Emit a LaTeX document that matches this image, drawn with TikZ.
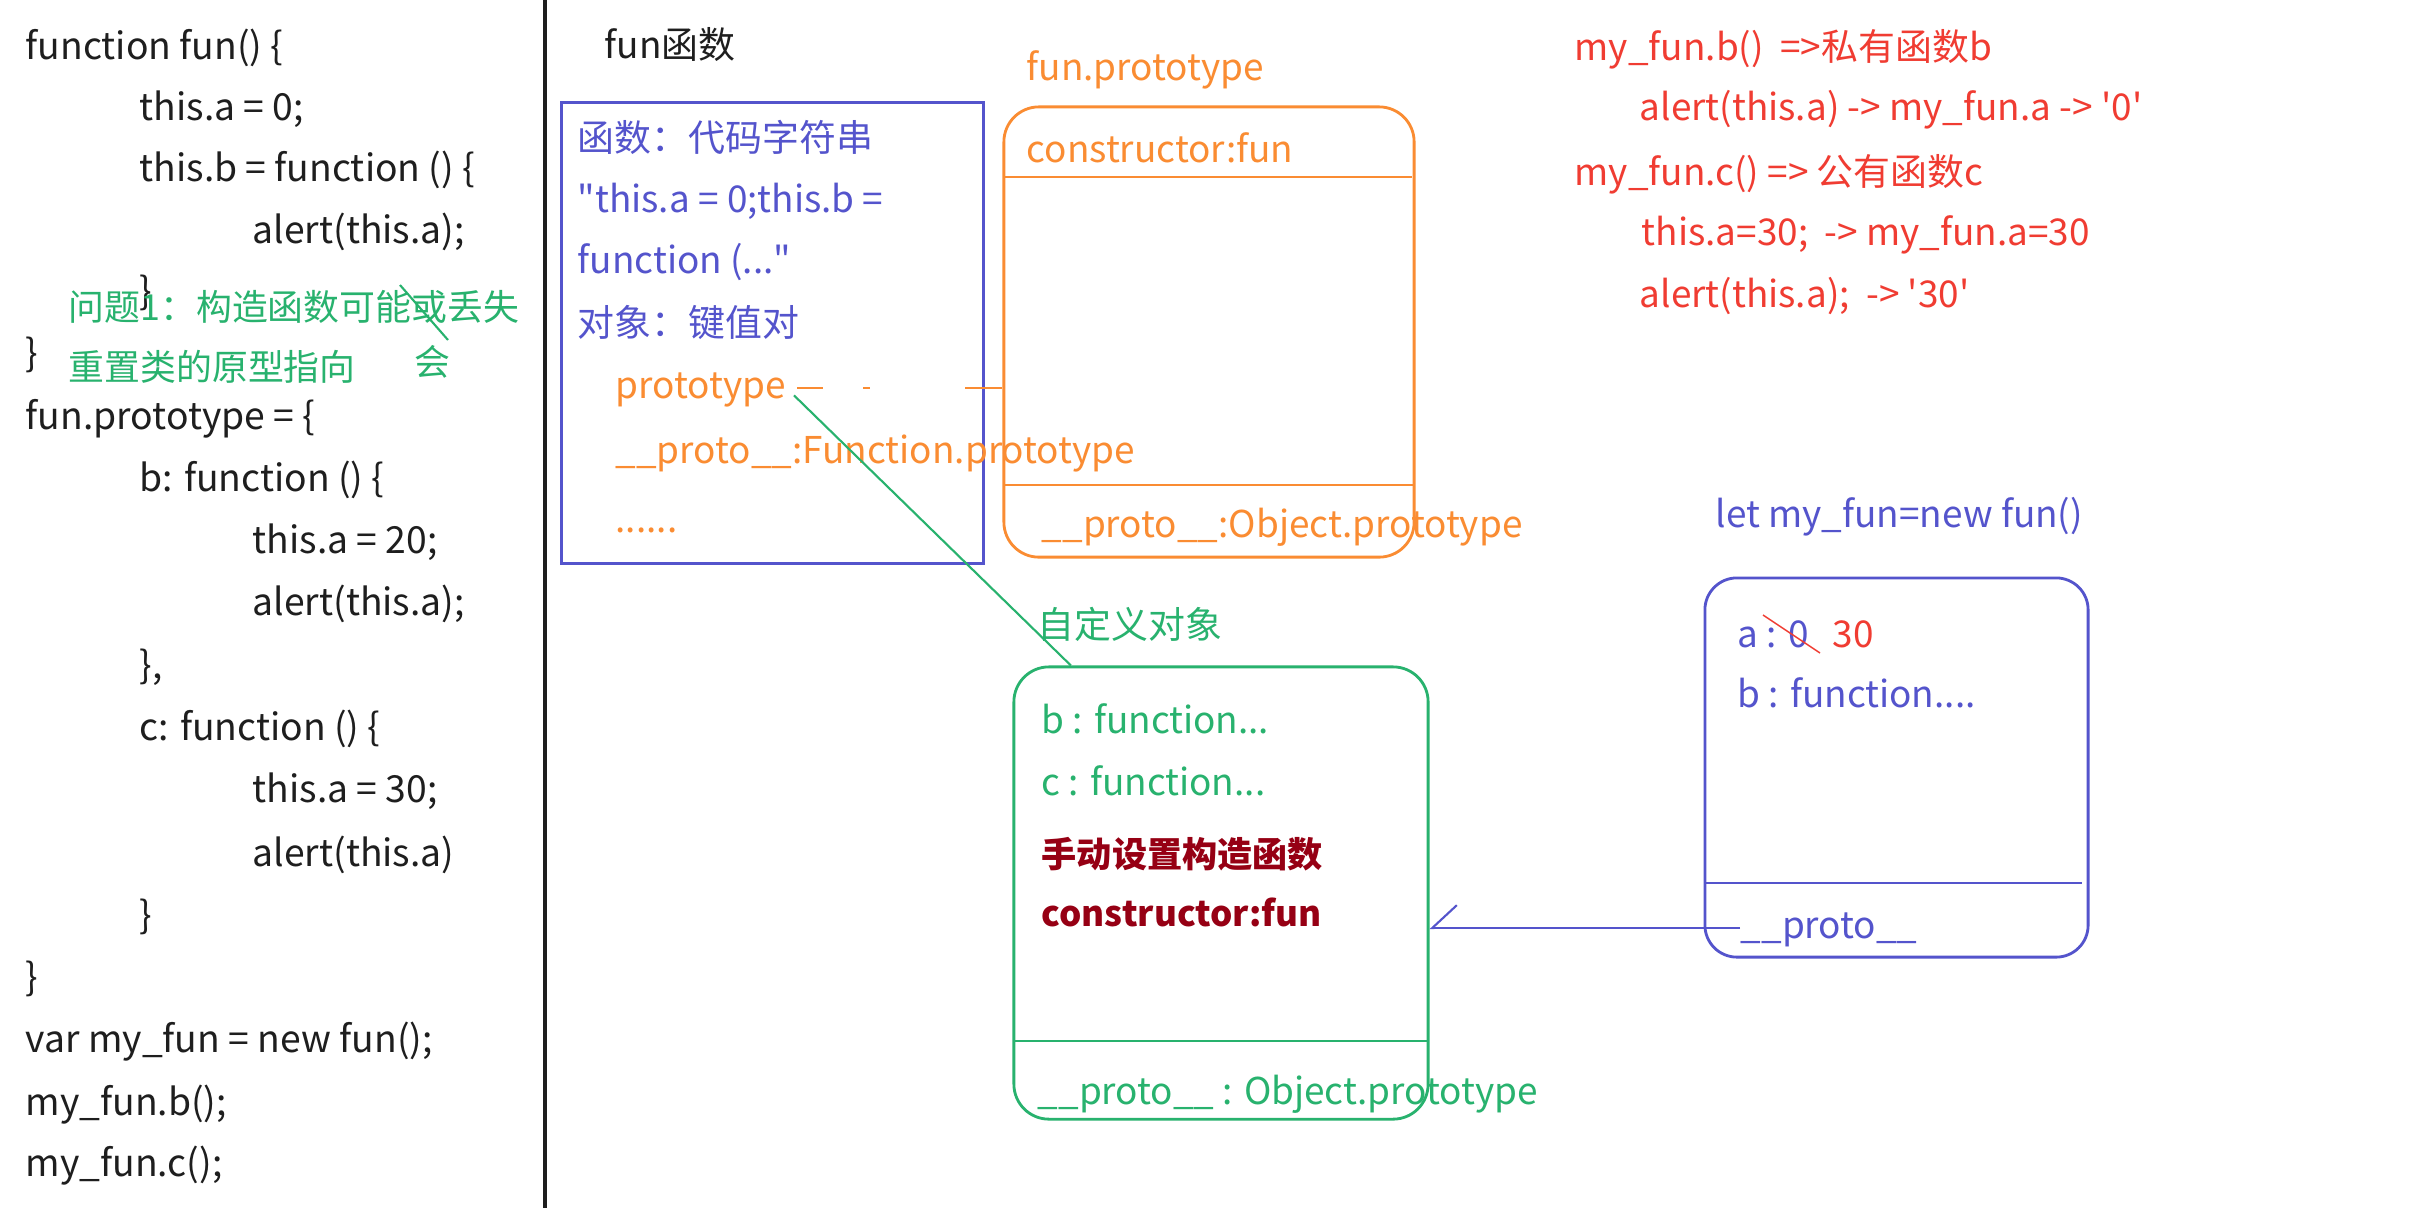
\documentclass[tikz,border=0pt]{standalone}
\usepackage{fontspec}
\setmainfont{Noto Sans CJK SC}
\usetikzlibrary{positioning,calc,arrows.meta}

\definecolor{codeink}{RGB}{30,30,30}
\definecolor{funblue}{RGB}{84,84,204}
\definecolor{protoorange}{RGB}{250,140,50}
\definecolor{objgreen}{RGB}{40,178,110}
\definecolor{notered}{RGB}{240,60,50}
\definecolor{ctorred}{RGB}{150,0,20}

\begin{document}
\begin{tikzpicture}[
    x=0.01cm, y=-0.01cm,
    txt/.style={anchor=west, inner sep=0pt, text height=0.8em, text depth=0.2em, font=\fontsize{10.5}{12}\selectfont},
    code/.style={txt, text=codeink, font=\fontsize{10.6}{13}\selectfont},
    note/.style={txt, text=objgreen, font=\fontsize{10.2}{12}\selectfont},
    funtxt/.style={txt, text=funblue},
    prototxt/.style={txt, text=protoorange},
    objtxt/.style={txt, text=objgreen},
    ctortxt/.style={txt, text=ctorred, font=\fontsize{10}{12}\selectfont\bfseries},
    redtxt/.style={txt, text=notered},
    funbox/.style={draw=funblue, line width=0.8pt, inner sep=0pt},
    protobox/.style={draw=protoorange, line width=0.8pt, inner sep=0pt, rounded corners=0.35cm},
    objbox/.style={draw=objgreen, line width=0.8pt, inner sep=0pt, rounded corners=0.35cm},
    instbox/.style={draw=funblue, line width=0.8pt, inner sep=0pt, rounded corners=0.32cm},
    link/.style={line width=0.6pt}
]
    \fill[white] (0,0) rectangle (2416,1208);
    \useasboundingbox (0,0) rectangle (2416,1208);

    % source code on the left
    \node[code] (l1) at (25,49) {function fun() \{};
    \node[code] (l2) at (139,110) {this.a = 0;};
    \node[code] (l3) at (139,171) {this.b = function () \{};
    \node[code] (l4) at (252,233) {alert(this.a);};
    \node[code] (l5) at (139,294) {\}};
    \node[code] (l6) at (25,356) {\}};
    \node[code] (l7) at (25,419) {fun.prototype = \{};
    \node[code] (l8) at (139,481) {b: function () \{};
    \node[code] (l9) at (252,543) {this.a = 20;};
    \node[code] (l10) at (252,605) {alert(this.a);};
    \node[code] (l11) at (139,668) {\},};
    \node[code] (l12) at (139,730) {c: function () \{};
    \node[code] (l13) at (252,792) {this.a = 30;};
    \node[code] (l14) at (252,856) {alert(this.a)};
    \node[code] (l15) at (139,918) {\}};
    \node[code] (l16) at (25,980) {\}};
    \node[code] (l17) at (25,1042) {var my\_fun = new fun();};
    \node[code] (l18) at (25,1105) {my\_fun.b();};
    \node[code] (l19) at (25,1166) {my\_fun.c();};

    \node[note] (q1) at (68,310) {问题1：构造函数可能或丢失};
    \node[note] (q2) at (68,370) {重置类的原型指向};
    \node[note] (q3) at (414,365) {会};
    \draw[objgreen, link] (400,285) -- (448,340);

    \draw[codeink, line width=0.9pt] (545,0) -- (545,1208);

    % fun function object
    \node[txt, text=codeink] (ftitle) at (604,48) {fun函数};
    \node[funbox, minimum width=4.21cm, minimum height=4.60cm] (fbox) at (772.5,333) {};
    \node[funtxt] (f1) at (577,141) {函数：代码字符串};
    \node[funtxt] (f2) at (577,202) {\textquotedbl this.a = 0;this.b =};
    \node[funtxt] (f3) at (577,263) {function (...\textquotedbl};
    \node[funtxt] (f4) at (577,326) {对象：键值对};
    \node[prototxt] (proto) at (615,388) {prototype};
    \node[prototxt] (fproto) at (615,453) {\_\_proto\_\_:Function.prototype};
    \node[prototxt] (fdots) at (615,522) {......};

    % fun.prototype
    \node[prototxt] (ptitle) at (1026,70) {fun.prototype};
    \node[protobox, minimum width=4.10cm, minimum height=4.50cm] (obox) at (1209,332) {};
    \node[prototxt] (pctor) at (1026,152) {constructor:fun};
    \node[prototxt] (pproto) at (1041,527) {\_\_proto\_\_:Object.prototype};
    \draw[protoorange, link] (1004,177) -- (1412,177);
    \draw[protoorange, link] (1004,485) -- (1414,485);

    % custom object
    \node[objtxt] (gtitle) at (1037,628) {自定义对象};
    \node[objbox, minimum width=4.14cm, minimum height=4.52cm] (gbox) at (1221,893) {};
    \node[objtxt] (gb) at (1041,723) {b : function...};
    \node[objtxt] (gc) at (1041,785) {c : function...};
    \node[ctortxt] (gset) at (1041,857) {手动设置构造函数};
    \node[ctortxt] (gctor) at (1041,916) {constructor:fun};
    \node[objtxt] (gproto) at (1037,1094) {\_\_proto\_\_ : Object.prototype};
    \draw[objgreen, link] (1014,1041) -- (1428,1041);

    % instance my_fun
    \node[funtxt] (mtitle) at (1715,517) {let my\_fun=new fun()};
    \node[instbox, minimum width=3.83cm, minimum height=3.79cm] (mbox) at (1896.5,767.5) {};
    \node[funtxt] (ma) at (1737,637) {a : 0};
    \node[redtxt] (mnew) at (1832,637) {30};
    \node[funtxt] (mb) at (1737,697) {b : function....};
    \node[funtxt] (mproto) at (1740,928) {\_\_proto\_\_};
    \draw[notered, line width=0.4pt] (1763,615) -- (1820,653);
    \draw[funblue, link] (1705,883) -- (2082,883);

    % notes on the right
    \node[redtxt] (r1) at (1574,50) {my\_fun.b()~~=>私有函数b};
    \node[redtxt] (r2) at (1639,110) {alert(this.a) -> my\_fun.a -> \textquotesingle 0\textquotesingle};
    \node[redtxt] (r3) at (1574,175) {my\_fun.c() => 公有函数c};
    \node[redtxt] (r4) at (1641,235) {this.a=30;~~-> my\_fun.a=30};
    \node[redtxt] (r5) at (1639,297) {alert(this.a);~~-> \textquotesingle 30\textquotesingle};

    % links
    \coordinate (gtop) at ($(gbox.north west)!0.14!(gbox.north east)$);
    \draw[protoorange, link, shorten <=3pt, dash pattern=on 7.4pt off 11.4pt on 2pt off 27pt on 30pt] (proto.east) -- (proto.east -| obox.west);
    \draw[objgreen, link, shorten <=3pt] (proto.east) -- (gtop);
    \draw[funblue, link, -{Straight Barb[harpoon, swap, length=7pt, width=13pt]}] (mproto.west) -- (mproto.west -| gbox.east);
\end{tikzpicture}
\end{document}
